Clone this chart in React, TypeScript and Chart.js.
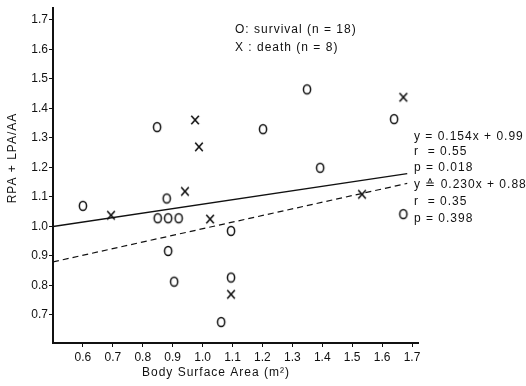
import React, { useEffect, useRef } from "react";
import { Chart, registerables } from "chart.js";

Chart.register(...registerables);

const survivalX = [0.60, 0.88, 0.85, 0.885, 0.92, 0.885, 0.905, 1.095, 1.095, 1.062, 0.848, 1.202, 1.349, 1.64, 1.393, 1.671];
const survivalY = [1.07, 1.095, 1.028, 1.028, 1.028, 0.917, 0.813, 0.985, 0.827, 0.676, 1.337, 1.33, 1.465, 1.364, 1.199, 1.042];
const deathX = [0.694, 1.025, 1.095, 0.941, 0.975, 0.988, 1.671, 1.533];
const deathY = [1.038, 1.025, 0.77, 1.119, 1.361, 1.27, 1.438, 1.109];

const fitX = [0.5, 1.684];
const survivalFitY = [1.0, 1.179];
const deathFitY = [0.88, 1.146];

const xTicks = [0.6, 0.7, 0.8, 0.9, 1.0, 1.1, 1.2, 1.3, 1.4, 1.5, 1.6, 1.7];
const yTicks = [0.7, 0.8, 0.9, 1.0, 1.1, 1.2, 1.3, 1.4, 1.5, 1.6, 1.7];

const legendLines = ["O: survival (n = 18)", "X : death (n = 8)"];
const statLines = [
  "y = 0.154x + 0.99",
  "r  = 0.55",
  "p = 0.018",
  "y \u2259 0.230x + 0.88",
  "r  = 0.35",
  "p = 0.398",
];
const xTitle = "Body Surface Area (m\u00b2)";
const yTitle = "RPA + LPA/AA";

const INK = "#111";
const FONT = "12px 'Liberation Sans', Arial, sans-serif";

function makeO(): HTMLCanvasElement {
  const c = document.createElement("canvas");
  c.width = 12;
  c.height = 14;
  const ctx = c.getContext("2d")!;
  ctx.strokeStyle = INK;
  ctx.lineWidth = 1.5;
  ctx.beginPath();
  ctx.ellipse(6, 7, 3.6, 4.6, 0, 0, Math.PI * 2);
  ctx.stroke();
  return c;
}

function makeX(): HTMLCanvasElement {
  const c = document.createElement("canvas");
  c.width = 12;
  c.height = 14;
  const ctx = c.getContext("2d")!;
  ctx.strokeStyle = INK;
  ctx.lineWidth = 1.6;
  ctx.beginPath();
  ctx.moveTo(2.2, 2.8);
  ctx.lineTo(9.8, 11.2);
  ctx.moveTo(9.8, 2.8);
  ctx.lineTo(2.2, 11.2);
  ctx.stroke();
  return c;
}

const textPlugin = {
  id: "textPlugin",
  afterDraw(chart: any) {
    const ctx = chart.ctx as CanvasRenderingContext2D;
    ctx.save();
    ctx.fillStyle = INK;
    ctx.font = FONT;
    (ctx as any).letterSpacing = "1px";
    ctx.textBaseline = "middle";
    ctx.textAlign = "left";
    legendLines.forEach((t, i) => ctx.fillText(t, 235, 30 + i * 18));
    const ys = [137, 152, 168, 185, 202, 219];
    statLines.forEach((t, i) => ctx.fillText(t, 414, ys[i]));
    ctx.textAlign = "center";
    ctx.fillText(xTitle, 216, 373);
    ctx.translate(13, 158);
    ctx.rotate(-Math.PI / 2);
    ctx.fillText(yTitle, 0, 0);
    ctx.restore();
  },
};

export default function App() {
  const ref = useRef<HTMLCanvasElement>(null);
  useEffect(() => {
    if (!ref.current) return;
    const oImg = makeO();
    const xImg = makeX();
    const chart = new Chart(ref.current, {
      type: "scatter",
      data: {
        datasets: [
          {
            label: "survival",
            data: survivalX.map((x, i) => ({ x, y: survivalY[i] })),
            pointStyle: oImg as any,
            pointRadius: 5,
            showLine: false,
          },
          {
            label: "death",
            data: deathX.map((x, i) => ({ x, y: deathY[i] })),
            pointStyle: xImg as any,
            pointRadius: 5,
            showLine: false,
          },
          {
            label: "fit survival",
            data: fitX.map((x, i) => ({ x, y: survivalFitY[i] })),
            showLine: true,
            borderColor: INK,
            borderWidth: 1.3,
            pointRadius: 0,
          },
          {
            label: "fit death",
            data: fitX.map((x, i) => ({ x, y: deathFitY[i] })),
            showLine: true,
            borderColor: INK,
            borderWidth: 1.2,
            borderDash: [6, 4],
            pointRadius: 0,
          },
        ],
      },
      options: {
        animation: false,
        responsive: false,
        layout: { padding: { top: 5, right: 108, left: 0, bottom: 0 } },
        plugins: { legend: { display: false }, tooltip: { enabled: false } },
        scales: {
          x: {
            type: "linear",
            min: 0.5,
            max: 1.72,
            afterBuildTicks: (axis: any) => {
              axis.ticks = xTicks.map((v) => ({ value: v }));
            },
            afterFit: (axis: any) => {
              axis.height = 43;
            },
            grid: { drawOnChartArea: false, drawTicks: true, tickLength: 4, color: INK, lineWidth: 1 },
            border: { display: true, color: INK, width: 2 },
            ticks: {
              color: INK,
              font: { family: "'Liberation Sans', Arial, sans-serif", size: 12 },
              padding: 3,
              maxRotation: 0,
              autoSkip: false,
              callback: (v: any) => Number(v).toFixed(1),
            },
          },
          y: {
            type: "linear",
            min: 0.605,
            max: 1.74,
            afterBuildTicks: (axis: any) => {
              axis.ticks = yTicks.map((v) => ({ value: v }));
            },
            afterFit: (axis: any) => {
              axis.width = 53;
            },
            grid: { drawOnChartArea: false, drawTicks: true, tickLength: 4, color: INK, lineWidth: 1 },
            border: { display: true, color: INK, width: 2 },
            ticks: {
              color: INK,
              font: { family: "'Liberation Sans', Arial, sans-serif", size: 12 },
              padding: 1,
              autoSkip: false,
              callback: (v: any) => Number(v).toFixed(1),
            },
          },
        },
      },
      plugins: [textPlugin],
    });
    return () => chart.destroy();
  }, []);
  return (
    <div style={{ position: "absolute", left: 0, top: 0, width: 526, height: 386, background: "#fff" }}>
      <canvas ref={ref} width={526} height={386} style={{ display: "block" }} />
    </div>
  );
}
